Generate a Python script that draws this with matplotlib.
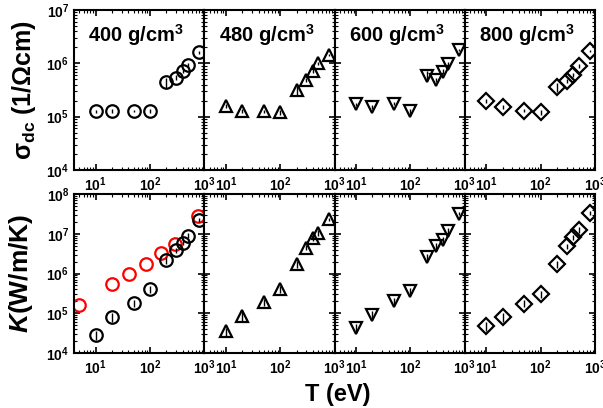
import numpy as np
import matplotlib.pyplot as plt
from matplotlib.ticker import LogLocator, NullFormatter

# Temperatures (eV)
T = [10, 20, 50, 100, 200, 300, 400, 500, 800]

densities = ["400", "480", "600", "800"]
markers = ["o", "^", "v", "D"]

# DC conductivity (1/Ohm cm)
sigma_400 = [1.25e5, 1.3e5, 1.28e5, 1.28e5, 4.4e5, 5.4e5, 7.2e5, 9.3e5, 1.6e6]
sigma_480 = [1.6e5, 1.3e5, 1.25e5, 1.2e5, 3.2e5, 4.9e5, 7.3e5, 1.0e6, 1.45e6]
sigma_600 = [1.7e5, 1.5e5, 1.75e5, 1.25e5, 5.9e5, 4.9e5, 7.0e5, 9.8e5, 1.8e6]
sigma_800 = [2.0e5, 1.5e5, 1.3e5, 1.2e5, 3.6e5, 4.7e5, 6.1e5, 9.0e5, 1.7e6]
sigma_err = [0.08, 0.08, 0.06, 0.1, 0.2, 0.1, 0.1, 0.08, 0.05]

# Thermal conductivity (W/m/K)
kappa_400 = [2.8e4, 8.0e4, 1.8e5, 4.0e5, 2.2e6, 3.8e6, 6.0e6, 9.0e6, 2.2e7]
kappa_480 = [3.5e4, 8.5e4, 1.9e5, 4.0e5, 1.7e6, 4.5e6, 7.6e6, 1.05e7, 2.3e7]
kappa_600 = [4.3e4, 9.0e4, 2.0e5, 3.6e5, 2.6e6, 5.0e6, 7.0e6, 1.2e7, 3.2e7]
kappa_800 = [4.8e4, 8.0e4, 1.75e5, 3.1e5, 1.7e6, 4.8e6, 8.2e6, 1.25e7, 3.3e7]
kappa_err = [0.25, 0.25, 0.2, 0.2, 0.2, 0.15, 0.15, 0.15, 0.1]

# Red reference data (400 g/cm^3)
T_ref = [5, 20, 42, 83, 163, 290, 780]
kappa_ref = [1.6e5, 5.3e5, 9.5e5, 1.7e6, 3.3e6, 5.5e6, 2.8e7]

sigmas = [sigma_400, sigma_480, sigma_600, sigma_800]
kappas = [kappa_400, kappa_480, kappa_600, kappa_800]

plt.rcParams['font.family'] = ['Liberation Sans', 'DejaVu Sans']
plt.rcParams['font.weight'] = 'bold'
plt.rcParams['mathtext.fontset'] = 'custom'
plt.rcParams['mathtext.rm'] = 'Liberation Sans:bold'
plt.rcParams['mathtext.it'] = 'Liberation Sans:italic:bold'
plt.rcParams['mathtext.default'] = 'regular'

fig = plt.figure(figsize=(6.03, 4.08), dpi=100)
left, right = 74 / 603, 595 / 603
w = (right - left) / 4
rows = [(1 - 170 / 408, 160 / 408), (1 - 353 / 408, 159 / 408)]


def style(ax, ylim):
    ax.set_xscale('log')
    ax.set_yscale('log')
    ax.set_xlim(4, 1000)
    ax.set_ylim(*ylim)
    ax.xaxis.set_major_locator(LogLocator(base=10, numticks=10))
    ax.xaxis.set_minor_locator(LogLocator(base=10, subs=np.arange(2, 10), numticks=20))
    ax.yaxis.set_major_locator(LogLocator(base=10, numticks=10))
    ax.yaxis.set_minor_locator(LogLocator(base=10, subs=np.arange(2, 10), numticks=20))
    ax.xaxis.set_minor_formatter(NullFormatter())
    ax.yaxis.set_minor_formatter(NullFormatter())
    ax.tick_params(which='both', direction='in', top=True, right=True, labelsize=10)
    ax.tick_params(which='major', length=4, width=1.2)
    ax.tick_params(which='minor', length=2, width=0.8)
    ax.tick_params(axis='x', pad=4)
    for s in ax.spines.values():
        s.set_linewidth(1.5)


for i in range(4):
    # top row: sigma_dc
    ax = fig.add_axes([left + i * w, rows[0][0], w, rows[0][1]])
    style(ax, (1e4, 1e7))
    y = np.array(sigmas[i])
    ax.errorbar(T, y, yerr=y * np.array(sigma_err), fmt=markers[i], ms=9 if i != 3 else 8,
                mfc='none', mec='black', mew=1.6, ecolor='black', elinewidth=1.0, capsize=0)
    ax.text(0.11, 0.8, f"{densities[i]} g/cm$^3$", transform=ax.transAxes,
            fontsize=14.5, fontweight='bold', va='baseline')
    if i == 0:
        ax.set_ylabel(r"$\sigma_{dc}$ (1/$\Omega$cm)", fontsize=18, fontweight='bold',
                      labelpad=6)
    else:
        ax.set_yticklabels([])

    # bottom row: kappa
    ax2 = fig.add_axes([left + i * w, rows[1][0], w, rows[1][1]])
    style(ax2, (1e4, 1e8))
    y = np.array(kappas[i])
    if i == 0:
        ax2.plot(T_ref, kappa_ref, 'o', ms=9, mfc='none', mec='red', mew=1.6)
    ax2.errorbar(T, y, yerr=y * np.array(kappa_err), fmt=markers[i], ms=9 if i != 3 else 8,
                 mfc='none', mec='black', mew=1.6, ecolor='black', elinewidth=1.0, capsize=0)
    if i == 0:
        ax2.set_ylabel(r"$\mathit{K}$(W/m/K)", fontsize=19, fontweight='bold', labelpad=8)
    else:
        ax2.set_yticklabels([])

fig.text((left + right) / 2 + 0.005, 0.005, "T (eV)", ha='center', va='bottom',
         fontsize=17, fontweight='bold')

fig.savefig('out.png', dpi=100)
